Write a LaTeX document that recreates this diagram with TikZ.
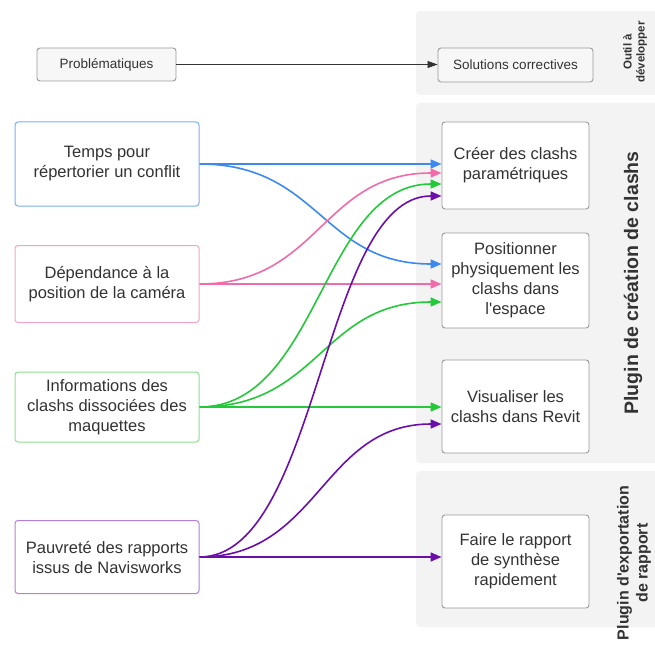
\documentclass[tikz,border=0pt]{standalone}
\usepackage{fontspec}
\setmainfont{Liberation Sans}[Ligatures=TeXOff]
\usetikzlibrary{arrows.meta,calc}
\definecolor{panelc}{HTML}{F3F3F3}
\definecolor{txt}{HTML}{333333}
\definecolor{graybd}{HTML}{9A9A9A}
\definecolor{bluebd}{HTML}{7AB0F2}
\definecolor{pinkbd}{HTML}{F3A3C6}
\definecolor{greenbd}{HTML}{8FE08F}
\definecolor{purplebd}{HTML}{B57FD6}
\definecolor{bluec}{HTML}{3C8AF0}
\definecolor{pinkc}{HTML}{F06BA8}
\definecolor{greenc}{HTML}{24C93A}
\definecolor{purplec}{HTML}{6B0FA8}
\begin{document}
\begin{tikzpicture}[x=1pt,y=-1pt,
  panel/.style={fill=panelc, draw=none, rounded corners=4pt},
  topbox/.style={draw=graybd, fill=black!3, rounded corners=3pt, line width=0.9pt, text=txt,
    font=\fontsize{13.5}{16}\selectfont, inner sep=0pt},
  lbox/.style={rounded corners=3pt, line width=1pt, fill=white, text=txt, align=center,
    font=\fontsize{16.5}{20}\selectfont, minimum width=184pt, inner sep=0pt},
  rbox/.style={draw=graybd, rounded corners=3pt, line width=0.9pt, fill=white, text=txt, align=center,
    font=\fontsize{16.5}{20}\selectfont, minimum width=147pt, inner sep=0pt},
  side/.style={rotate=90, font=\bfseries, text=txt, align=center},
  conn/.style={line width=1.6pt, -{Triangle[length=11pt,width=9pt]}}]
\useasboundingbox (0,0) rectangle (654,655);
% panels
\fill[panel] (416,11) rectangle (662,95);
\fill[panel] (416,103) rectangle (662,463);
\fill[panel] (416,471) rectangle (662,627);
% side labels
\node[side, font=\bfseries\fontsize{11.5}{13}\selectfont] (outil) at (635,52) {Outil à\\développer};
\node[side, font=\bfseries\fontsize{19.5}{22}\selectfont] (plug1) at (633,283) {Plugin de création de clashs};
\node[side, font=\bfseries\fontsize{16}{19}\selectfont] (plug2) at (634,563) {Plugin d'exportation\\de rapport};
% top row
\node[topbox, minimum width=139pt, minimum height=33pt] (prob) at (106.5,64.5) {Problématiques};
\node[topbox, minimum width=155pt, minimum height=34pt] (sol) at (515.5,65) {Solutions correctives};
\draw[line width=0.8pt, draw=txt, -{Triangle[length=10pt,width=7pt]}] (prob.east) -- (prob.east -| sol.west);
% left boxes
\node[lbox, draw=bluebd, minimum height=84pt] (temps) at (107,164) {Temps pour\\répertorier un conflit};
\node[lbox, draw=pinkbd, minimum height=77pt] (dep) at (107,284) {Dépendance à la\\position de la caméra};
\node[lbox, draw=greenbd, minimum height=70pt] (info) at (107,407) {Informations des\\clashs dissociées des\\maquettes};
\node[lbox, draw=purplebd, minimum height=73pt] (pauv) at (107,557) {Pauvreté des rapports\\issus de Navisworks};
% right boxes
\node[rbox, minimum height=87pt] (cree) at (515.5,165.5) {Créer des clashs\\paramétriques};
\node[rbox, minimum height=95pt] (pos) at (515.5,280.5) {Positionner\\physiquement les\\clashs dans\\l'espace};
\node[rbox, minimum height=93pt] (vis) at (515.5,406.5) {Visualiser les\\clashs dans Revit};
\node[rbox, minimum height=93pt] (fair) at (515.5,561.5) {Faire le rapport\\de synthèse\\rapidement};
% arrival points
\coordinate (creeP) at ($(cree.west)+(0,7.5)$);
\coordinate (creeG) at ($(cree.west)+(0,18.5)$);
\coordinate (creeV) at ($(cree.west)+(0,30.5)$);
\coordinate (posB) at ($(pos.west)+(0,-16.5)$);
\coordinate (posG) at ($(pos.west)+(0,21.5)$);
\coordinate (visV) at ($(vis.west)+(0,17.5)$);
% connectors
\draw[conn, bluec] (temps.east) -- (temps.east -| cree.west);
\draw[conn, bluec] (temps.east) .. controls +(120,0) and +(-120,0) .. (posB);
\draw[conn, pinkc] (dep.east) .. controls +(120,0) and +(-120,0) .. (creeP);
\draw[conn, pinkc] (dep.east) -- (dep.east -| pos.west);
\draw[conn, greenc] (info.east) .. controls +(120,0) and +(-120,0) .. (creeG);
\draw[conn, greenc] (info.east) .. controls +(120,0) and +(-120,0) .. (posG);
\draw[conn, greenc] (info.east) -- (info.east -| vis.west);
\draw[conn, purplec] (pauv.east) .. controls +(120,0) and +(-120,0) .. (creeV);
\draw[conn, purplec] (pauv.east) .. controls +(120,0) and +(-120,0) .. (visV);
\draw[conn, purplec] (pauv.east) -- (pauv.east -| fair.west);
\end{tikzpicture}
\end{document}
